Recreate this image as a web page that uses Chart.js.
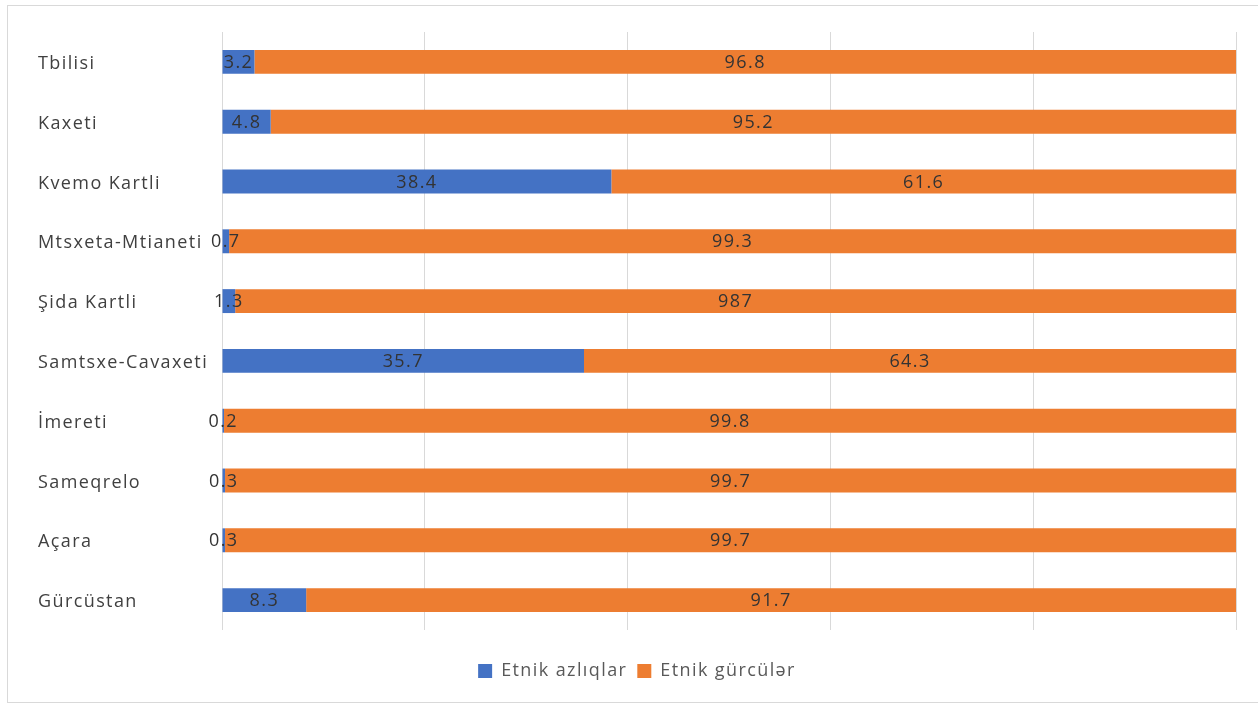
<!DOCTYPE html>
<html>
<head>
<meta charset="utf-8">
<script src="https://cdn.jsdelivr.net/npm/chart.js@4"></script>
<style>
html,body{margin:0;padding:0;background:#fff;}
#wrap{position:absolute;left:0;top:0;width:1258px;height:705px;}
#frame{position:absolute;left:7px;top:5px;width:1260px;height:698px;border:1px solid #d9d9d9;box-sizing:border-box;pointer-events:none;}
</style>
</head>
<body>
<div id="wrap"><canvas id="c" width="1258" height="705"></canvas></div>
<div id="frame"></div>
<script>
const categories = ["Tbilisi","Kaxeti","Kvemo Kartli","Mtsxeta-Mtianeti","Şida Kartli","Samtsxe-Cavaxeti","İmereti","Sameqrelo","Açara","Gürcüstan"];
const azliqlar = [3.2, 4.8, 38.4, 0.7, 1.3, 35.7, 0.2, 0.3, 0.3, 8.3];
const gurculer = [96.8, 95.2, 61.6, 99.3, 98.7, 64.3, 99.8, 99.7, 99.7, 91.7];
const azliqlarText = ["3.2","4.8","38.4","0.7","1.3","35.7","0.2","0.3","0.3","8.3"];
const gurculerText = ["96.8","95.2","61.6","99.3","987","64.3","99.8","99.7","99.7","91.7"];
const seriesNames = ["Etnik azlıqlar","Etnik gürcülər"];
const xTicks = [0,20,40,60,80,100];

const FONT = "'Open Sans', sans-serif";
const SPACING = '1.4px';

const spacingPlugin = {
  id: 'spacing',
  beforeUpdate(chart) { chart.ctx.letterSpacing = SPACING; },
  beforeLayout(chart) { chart.ctx.letterSpacing = SPACING; },
  beforeDraw(chart) { chart.ctx.letterSpacing = SPACING; }
};

const labelPlugin = {
  id: 'segLabels',
  afterDatasetsDraw(chart) {
    const ctx = chart.ctx;
    const texts = [azliqlarText, gurculerText];
    ctx.save();
    ctx.letterSpacing = SPACING;
    ctx.font = "18px " + FONT;
    ctx.fillStyle = "#333333";
    ctx.textAlign = "center";
    ctx.textBaseline = "middle";
    chart.data.datasets.forEach((ds, di) => {
      const meta = chart.getDatasetMeta(di);
      meta.data.forEach((el, i) => {
        const cx = (el.x + el.base) / 2;
        ctx.fillText(texts[di][i], cx, el.y + 1);
      });
    });
    ctx.restore();
  }
};

new Chart(document.getElementById('c'), {
  type: 'bar',
  data: {
    labels: categories,
    datasets: [
      { label: seriesNames[0], data: azliqlar, backgroundColor: '#4472C4', barPercentage: 0.8, categoryPercentage: 0.5 },
      { label: seriesNames[1], data: gurculer, backgroundColor: '#ED7D31', barPercentage: 0.8, categoryPercentage: 0.5 }
    ]
  },
  options: {
    indexAxis: 'y',
    responsive: false,
    animation: false,
    layout: { padding: { left: 38, right: 22, top: 32, bottom: 15 } },
    scales: {
      x: {
        stacked: true, min: 0, max: 100,
        afterBuildTicks: s => { s.ticks = xTicks.map(v => ({ value: v })); },
        afterFit: s => { s.height = 22; },
        ticks: { display: false },
        grid: { color: '#d9d9d9', drawTicks: false },
        border: { display: false }
      },
      y: {
        stacked: true,
        afterFit: s => { s.width = 184; },
        ticks: { crossAlign: 'far', labelOffset: 2, color: '#404040', font: { family: FONT, size: 18 } },
        grid: { display: false },
        border: { display: false }
      }
    },
    plugins: {
      legend: {
        position: 'bottom',
        labels: { boxWidth: 14, boxHeight: 14, color: '#595959', font: { family: FONT, size: 18 }, padding: 10 }
      },
      tooltip: { enabled: false }
    }
  },
  plugins: [spacingPlugin, labelPlugin]
});
</script>
</body>
</html>
